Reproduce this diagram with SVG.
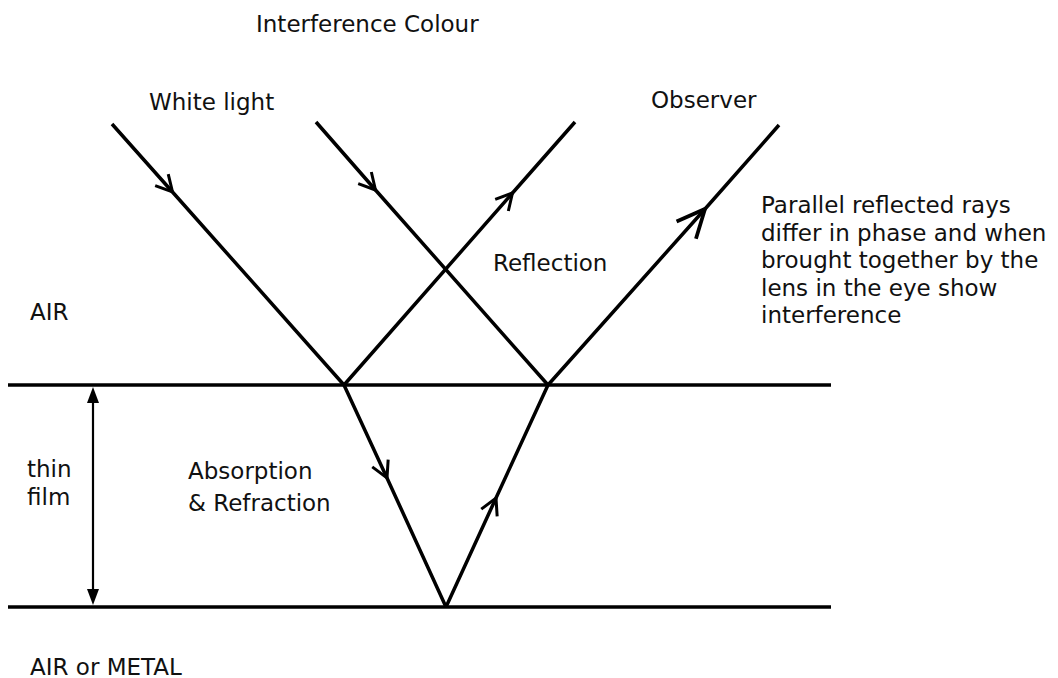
<svg xmlns="http://www.w3.org/2000/svg" width="1058" height="678" viewBox="0 0 1058 678">
<defs>
<style>
.t{font-family:"DejaVu Sans","Liberation Sans",sans-serif;font-size:23px;fill:#111}
.ln{stroke:#000;stroke-width:3.5;fill:none}
.hl{stroke:#000;stroke-width:3.5;fill:none}
</style>
<marker id="chev" markerUnits="userSpaceOnUse" markerWidth="30" markerHeight="30" viewBox="-20 -10 24 20" refX="0" refY="0" orient="auto">
<path d="M-13,-7 L0,0 L-13,7" fill="none" stroke="#000" stroke-width="2.4"/>
</marker>
<marker id="chevL" markerUnits="userSpaceOnUse" markerWidth="40" markerHeight="40" viewBox="-30 -15 34 30" refX="0" refY="0" orient="auto">
<path d="M-24,-11 L0,0 L-24,11" fill="none" stroke="#000" stroke-width="3.2"/>
</marker>
</defs>
<rect width="1058" height="678" fill="#fff"/>
<g id="connectors">
<line class="hl" x1="8" y1="385" x2="831" y2="385"/>
<line class="hl" x1="8" y1="607" x2="831" y2="607"/>
<path class="ln" d="M112,124 L172.5,192 L344,385" marker-mid="url(#chev)"/>
<path class="ln" d="M316,122 L375.5,190 L548,385" marker-mid="url(#chev)"/>
<path class="ln" d="M344,385 L512.5,193 L575,122" marker-mid="url(#chev)"/>
<path class="ln" d="M548,385 L705,209 L779,125" marker-mid="url(#chevL)"/>
<path class="ln" d="M344,385 L387,478 L446,607" marker-mid="url(#chev)"/>
<path class="ln" d="M446,607 L496,498 L548,385" marker-mid="url(#chev)"/>
<line x1="93" y1="402" x2="93" y2="590" stroke="#000" stroke-width="2.2"/>
<path d="M93,387 L87,403 L99,403 Z" fill="#000"/>
<path d="M93,605 L87,589 L99,589 Z" fill="#000"/>
</g>
<g id="title"><text class="t" x="256" y="32">Interference Colour</text></g>
<g id="white-light"><text class="t" x="149" y="110">White light</text></g>
<g id="observer"><text class="t" x="651" y="108">Observer</text></g>
<g id="reflection"><text class="t" x="493" y="271">Reflection</text></g>
<g id="air"><text class="t" x="30" y="320">AIR</text></g>
<g id="note">
<text class="t" x="761" y="213">Parallel reflected rays</text>
<text class="t" x="761" y="241">differ in phase and when</text>
<text class="t" x="761" y="268">brought together by the</text>
<text class="t" x="761" y="296">lens in the eye show</text>
<text class="t" x="761" y="323">interference</text>
</g>
<g id="thin-film">
<text class="t" x="27" y="477">thin</text>
<text class="t" x="27" y="505">film</text>
</g>
<g id="absorption">
<text class="t" x="188" y="479">Absorption</text>
<text class="t" x="188" y="511">&amp; Refraction</text>
</g>
<g id="air-metal"><text class="t" x="30" y="675">AIR or METAL</text></g>
</svg>
